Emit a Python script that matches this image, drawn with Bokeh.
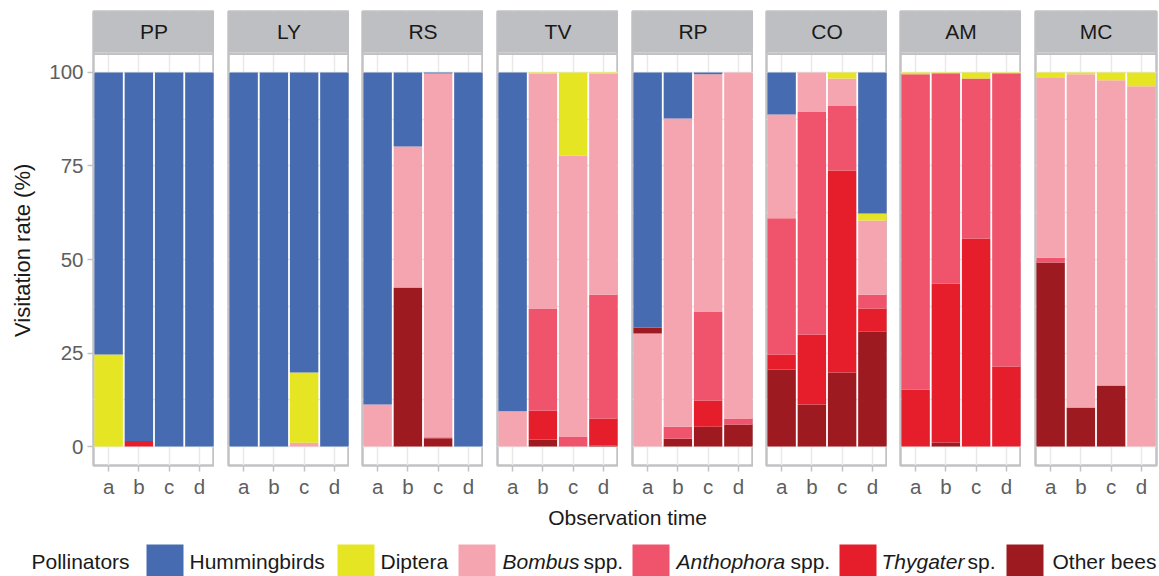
import math
from bokeh.plotting import figure
from bokeh.models import Range1d, FixedTicker, Span, ColumnDataSource
from bokeh.layouts import row, column
from bokeh.embed import file_html
from bokeh.resources import INLINE
from bokeh.core.properties import value

# ---------------- data ----------------
panels = ["PP", "LY", "RS", "TV", "RP", "CO", "AM", "MC"]
times = ["a", "b", "c", "d"]
groups = ["Hummingbirds", "Diptera", "Bombus spp.", "Anthophora spp.", "Thygater sp.", "Other bees"]
group_colors = ["#466BB1", "#E5E523", "#F5A5B0", "#F0546C", "#E61E2C", "#9D1B20"]
legend_italic = ["", "", "Bombus", "Anthophora", "Thygater", ""]
legend_regular = ["Hummingbirds", "Diptera", "spp.", "spp.", "sp.", "Other bees"]

# values per bar, panel-major (PP a,b,c,d, LY a,b,c,d, ...), in %
hummingbirds = [75.4, 98.5, 100, 100,  100, 100, 80.2, 100,  88.8, 19.8, 0.3, 100,  90.6, 0, 0, 0,
                68.2, 12.3, 0.5, 0,  11.2, 0, 0, 37.7,  0, 0, 0, 0,  0, 0, 0, 0]
diptera = [24.6, 0, 0, 0,  0, 0, 18.8, 0,  0, 0, 0, 0,  0, 0.3, 22.2, 0.3,
           0, 0, 0, 0,  0, 0, 1.6, 1.9,  0.5, 0.2, 1.6, 0.2,  1.3, 0.5, 2.1, 3.7]
bombus = [0, 0, 0, 0,  0, 0, 1.0, 0,  11.2, 37.7, 97.2, 0,  9.4, 62.8, 75.1, 59.1,
          30.2, 82.4, 63.4, 92.5,  27.8, 10.4, 7.2, 19.8,  0, 0, 0, 0,  48.2, 89.1, 81.6, 96.3]
anthophora = [0, 0, 0, 0,  0, 0, 0, 0,  0, 0, 0.3, 0,  0, 27.3, 2.7, 33.1,
              0, 3.2, 23.8, 1.6,  36.4, 59.7, 17.4, 3.7,  84.3, 56.2, 42.8, 78.4,  1.3, 0, 0, 0]
thygater = [0, 1.5, 0, 0,  0, 0, 0, 0,  0, 0, 0, 0,  0, 7.7, 0, 7.2,
            0, 0, 7.0, 0,  4.0, 18.7, 54.0, 6.2,  15.2, 42.5, 55.6, 21.4,  0, 0, 0, 0]
other_bees = [0, 0, 0, 0,  0, 0, 0, 0,  0, 42.5, 2.2, 0,  0, 1.9, 0, 0.3,
              1.6, 2.1, 5.3, 5.9,  20.6, 11.2, 19.8, 30.7,  0, 1.1, 0, 0,  49.2, 10.4, 16.3, 0]

series = {
    "Hummingbirds": hummingbirds,
    "Diptera": diptera,
    "Bombus spp.": bombus,
    "Anthophora spp.": anthophora,
    "Thygater sp.": thygater,
    "Other bees": other_bees,
}
default_order = ["Other bees", "Thygater sp.", "Anthophora spp.", "Bombus spp.", "Diptera", "Hummingbirds"]
order_exceptions = {("RP", "a"): ["Bombus spp.", "Other bees", "Thygater sp.", "Anthophora spp.",
                                  "Diptera", "Hummingbirds"]}
y_ticks = [0, 25, 50, 75, 100]

# ---------------- style ----------------
FONT = "Liberation Sans"
BORDER = "#C2C2C5"
STRIP = "#BEBFC3"
GRID = "#E8E8E8"
TICKTXT = "#5E5E5E"
DARK = "#1A1A1A"
Y0, Y1 = -5.08, 116.31
PANEL_TOP = 105.0
STRIP_BOTTOM = 105.35
FRAME_W = 121
LABEL_W = 40
gaps = [93 - LABEL_W, 14, 13, 14, 14, 13, 13, 14]
PH = 11 + 454 + 35

color_of = dict(zip(groups, group_colors))

# y-axis title in its own narrow figure (pixel coordinates)
lab = figure(width=LABEL_W, height=PH, x_range=Range1d(0, LABEL_W), y_range=Range1d(PH, 0),
             output_backend="svg", toolbar_location=None, title_location=None,
             x_axis_location=None, y_axis_location=None,
             min_border_left=0, min_border_right=0, min_border_top=0, min_border_bottom=0)
lab.outline_line_color = None
lab.xgrid.visible = False
lab.ygrid.visible = False
lab.text(x=[22], y=[263], text=["Visitation rate (%)"], angle=math.pi / 2,
         text_align="center", text_baseline="middle", text_font=value(FONT),
         text_font_size="22px", text_color=DARK)

figs = [lab]
for i, pn in enumerate(panels):
    first = i == 0
    last = i == len(panels) - 1
    mbl = gaps[i]
    mbr = 2 if last else 0
    p = figure(width=mbl + FRAME_W + mbr, height=PH,
               x_range=Range1d(0.5, 4.5), y_range=Range1d(Y0, Y1),
               output_backend="svg", toolbar_location=None, title_location=None,
               y_axis_location="left" if first else None,
               min_border_left=mbl, min_border_right=mbr, min_border_top=11, min_border_bottom=35)
    p.outline_line_color = BORDER
    p.outline_line_width = 2.5
    p.background_fill_color = "white"

    # grids
    p.xgrid.ticker = FixedTicker(ticks=[1, 2, 3, 4])
    p.ygrid.ticker = FixedTicker(ticks=y_ticks, minor_ticks=[12.5, 37.5, 62.5, 87.5])
    p.xgrid.grid_line_color = GRID
    p.ygrid.grid_line_color = GRID
    p.ygrid.minor_grid_line_color = GRID
    p.xgrid.grid_line_width = 1.5
    p.ygrid.grid_line_width = 1.5
    p.ygrid.minor_grid_line_width = 1.5

    # stacked bars
    xs, bots, tops, cols = [], [], [], []
    for j, t in enumerate(times):
        k = i * 4 + j
        order = order_exceptions.get((pn, t), default_order)
        cum = 0.0
        for g in order:
            v = series[g][k]
            if v <= 0:
                continue
            xs.append(j + 1)
            bots.append(cum)
            tops.append(cum + v)
            cols.append(color_of[g])
            cum += v
    src = ColumnDataSource(dict(x=xs, bottom=bots, top=tops, color=cols))
    p.vbar(x="x", bottom="bottom", top="top", width=0.94, fill_color="color",
           line_color=None, source=src)

    # strip
    p.quad(left=[0.5], right=[4.5], bottom=[STRIP_BOTTOM], top=[Y1],
           fill_color=STRIP, line_color=None)
    p.add_layout(Span(location=PANEL_TOP, dimension="width", line_color=BORDER, line_width=2.5))
    p.text(x=[2.5], y=[(STRIP_BOTTOM + Y1) / 2], text=[pn], text_align="center",
           text_baseline="middle", text_font=value(FONT), text_font_size="21px",
           text_color=DARK)

    # x axis
    xa = p.xaxis[0]
    xa.ticker = FixedTicker(ticks=[1, 2, 3, 4])
    xa.major_label_overrides = {1: "a", 2: "b", 3: "c", 4: "d"}
    xa.axis_line_color = None
    xa.major_tick_line_color = BORDER
    xa.major_tick_line_width = 1.5
    xa.major_tick_out = 6
    xa.major_tick_in = 0
    xa.minor_tick_line_color = None
    xa.major_label_text_font = FONT
    xa.major_label_text_font_size = "20.5px"
    xa.major_label_text_color = TICKTXT
    xa.major_label_standoff = 3

    if first:
        ya = p.yaxis[0]
        ya.ticker = FixedTicker(ticks=y_ticks)
        ya.axis_line_color = None
        ya.major_tick_line_color = BORDER
        ya.major_tick_line_width = 1.5
        ya.major_tick_out = 6
        ya.major_tick_in = 0
        ya.minor_tick_line_color = None
        ya.major_label_text_font = FONT
        ya.major_label_text_font_size = "20.5px"
        ya.major_label_text_color = TICKTXT
        ya.major_label_standoff = 4
    figs.append(p)

total_w = sum(f.width for f in figs)

# ---------------- bottom: axis title + legend ----------------
BH = 76
b = figure(width=total_w, height=BH, x_range=Range1d(0, total_w), y_range=Range1d(500 + BH, 500),
           output_backend="svg", toolbar_location=None, title_location=None,
           x_axis_location=None, y_axis_location=None,
           min_border_left=0, min_border_right=0, min_border_top=0, min_border_bottom=0)
b.outline_line_color = None
b.xgrid.visible = False
b.ygrid.visible = False

b.text(x=[627], y=[517], text=["Observation time"], text_align="center", text_baseline="middle",
       text_font=value(FONT), text_font_size="21px", text_color=DARK)
b.text(x=[31], y=[561], text=["Pollinators"], text_align="left", text_baseline="middle",
       text_font=value(FONT), text_font_size="21px", text_color=DARK)

box_left = [146, 337, 458, 632, 839, 1006]
text_left = [189, 380, 502, 676, 881, 1052]
regular_left = [189, 380, 583, 790, 967, 1052]
b.quad(left=box_left, right=[x + 37 for x in box_left], top=[544] * 6, bottom=[576] * 6,
       fill_color=group_colors, line_color=None)
it_x = [x for x, s in zip(text_left, legend_italic) if s]
it_t = [s for s in legend_italic if s]
b.text(x=it_x, y=[561] * len(it_x), text=it_t, text_align="left", text_baseline="middle",
       text_font=value(FONT), text_font_size="21px", text_font_style="italic", text_color=DARK)
b.text(x=regular_left, y=[561] * 6, text=legend_regular, text_align="left", text_baseline="middle",
       text_font=value(FONT), text_font_size="21px", text_color=DARK)

layout = column(row(*figs), b)
open("out.html", "w").write(file_html(layout, INLINE))
